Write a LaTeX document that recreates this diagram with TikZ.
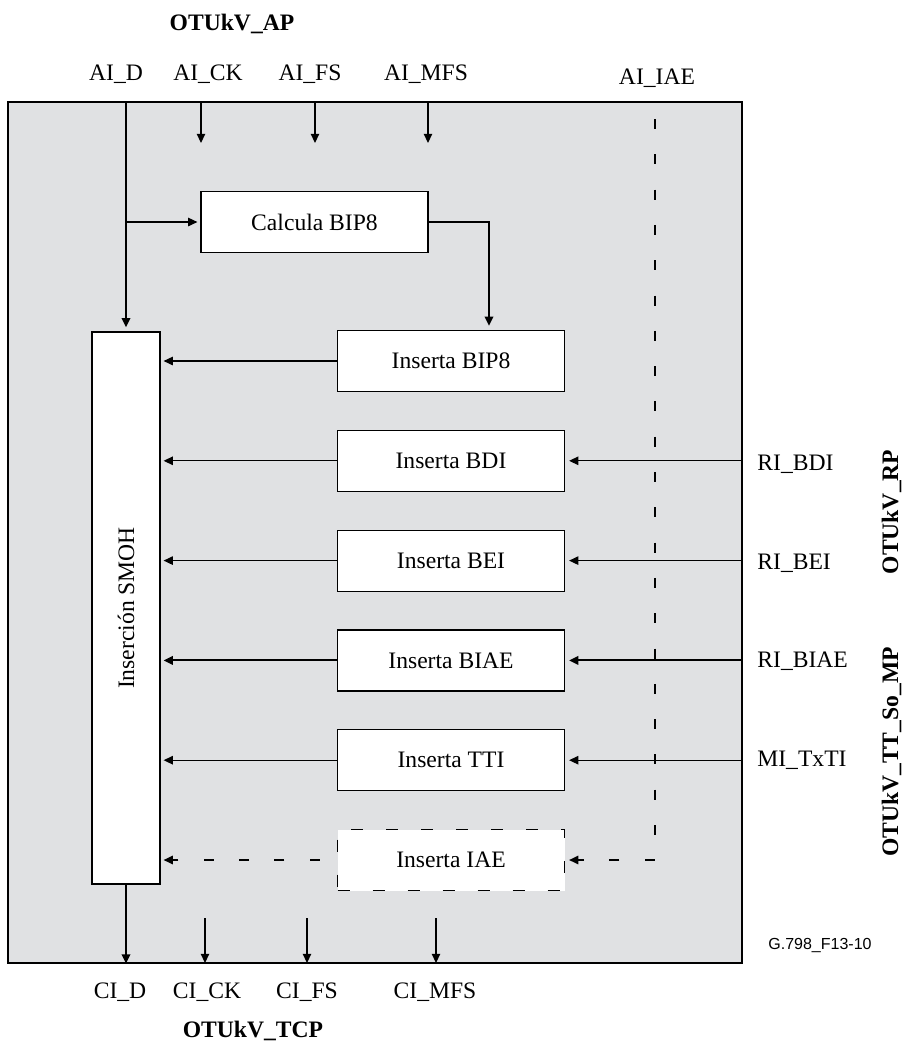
\documentclass[tikz,border=0pt]{standalone}
\usepackage{fontspec}
\setmainfont{Liberation Serif}
\newfontfamily\figfont{Liberation Sans}
\usetikzlibrary{arrows.meta, positioning}
\definecolor{FrameGray}{RGB}{224,225,227}

\begin{document}
\begin{tikzpicture}[
    x=0.5pt, y=-0.5pt,
    node distance=18.8pt,
    font=\fontsize{11.8}{14}\selectfont,
    frame/.style={rectangle, draw, fill=FrameGray, line width=0.65pt, minimum width=367pt, minimum height=430.5pt, inner sep=0pt},
    block/.style={rectangle, draw, fill=white, line width=0.6pt, minimum width=113.5pt, minimum height=30.5pt, inner sep=0pt, align=center},
    dblock/.style={block, dash pattern=on 6pt off 11.5pt},
    arrow/.style={-{Triangle[length=4.6pt, width=4.2pt]}, line width=0.6pt},
    darrow/.style={-{Triangle[length=4.6pt, width=4.2pt]}, line width=0.75pt, dash pattern=on 5pt off 12.65pt},
    mainarrow/.style={arrow, line width=1pt},
    sig/.style={anchor=base, inner sep=0pt},
    sigr/.style={anchor=base west, inner sep=0pt},
    title/.style={anchor=base, inner sep=0pt, font=\fontsize{11.8}{14}\selectfont\bfseries}
]
\useasboundingbox (0,0) rectangle (906,1041);

\node[frame] (frame) at (375,532.5) {};

\node[block] (calc) at (314.5,222) {Calcula BIP8};
\node[block] (ibip) at (451,361) {Inserta BIP8};
\node[block, below=of ibip] (ibdi) {Inserta BDI};
\node[block, below=of ibdi] (ibei) {Inserta BEI};
\node[block, below=of ibei] (ibiae) {Inserta BIAE};
\node[block, below=of ibiae] (itti) {Inserta TTI};
\node[dblock, below=of itti] (iiae) {Inserta IAE};
\node[block, minimum width=34pt, minimum height=276pt, label={[rotate=90]center:Inserción SMOH}] (smoh) at (126,608) {};

\node[title] (ap) at (232,30) {OTUkV\_AP};
\node[sig] (aid) at (116,80) {AI\_D};
\node[sig] (aick) at (208,80) {AI\_CK};
\node[sig] (aifs) at (310,80) {AI\_FS};
\node[sig] (aimfs) at (426,80) {AI\_MFS};
\node[sig] (aiiae) at (657,84) {AI\_IAE};

\node[sig] (cid) at (120,998) {CI\_D};
\node[sig] (cick) at (207,998) {CI\_CK};
\node[sig] (cifs) at (307,998) {CI\_FS};
\node[sig] (cimfs) at (435,998) {CI\_MFS};
\node[title] (tcp) at (253,1037) {OTUkV\_TCP};

\node[sigr] (ribdi) at (757,470) {RI\_BDI};
\node[sigr] (ribei) at (757,569) {RI\_BEI};
\node[sigr] (ribiae) at (757,667) {RI\_BIAE};
\node[sigr] (mitxti) at (757,766) {MI\_TxTI};
\node[title, rotate=90] (rp) at (898,512) {OTUkV\_RP};
\node[title, rotate=90] (mp) at (898,752) {OTUkV\_TT\_So\_MP};
\node[sigr, font=\figfont\fontsize{8}{10}\selectfont] (fig) at (768,949) {G.798\_F13-10};

\coordinate (ckin) at (201,102);
\coordinate (ckout) at (201,143);
\coordinate (fsin) at (315,102);
\coordinate (fsout) at (315,143);
\coordinate (mfsin) at (428,102);
\coordinate (mfsout) at (428,143);
\coordinate (iaein) at (655,119);
\coordinate (cckin) at (205,918);
\coordinate (cckout) at (205,963);
\coordinate (cfsin) at (307,918);
\coordinate (cfsout) at (307,963);
\coordinate (cmfsin) at (436,918);
\coordinate (cmfsout) at (436,963);

\draw[mainarrow, shorten >=2pt] (smoh.north |- frame.north) -- (smoh.north);
\draw[arrow, shorten >=1.5pt] (smoh.north |- calc.west) -- (calc.west);
\draw[mainarrow, shorten >=2pt] (calc.east) -| ([xshift=19pt]ibip.north);
\draw[arrow] (ckin) -- (ckout);
\draw[arrow] (fsin) -- (fsout);
\draw[arrow] (mfsin) -- (mfsout);

\draw[arrow, shorten >=1.5pt] (ibip.west) -- (ibip.west -| smoh.east);
\draw[arrow, shorten >=1.5pt] (ibdi.west) -- (ibdi.west -| smoh.east);
\draw[arrow, shorten >=1.5pt] (ibei.west) -- (ibei.west -| smoh.east);
\draw[mainarrow, shorten >=1.5pt] (ibiae.west) -- (ibiae.west -| smoh.east);
\draw[arrow, shorten >=1.5pt] (itti.west) -- (itti.west -| smoh.east);
\draw[darrow, dash phase=9pt, shorten >=1.5pt] (iiae.west) -- (iiae.west -| smoh.east);

\draw[arrow, shorten >=2pt] (ibdi.east -| frame.east) -- (ibdi.east);
\draw[arrow, shorten >=2pt] (ibei.east -| frame.east) -- (ibei.east);
\draw[mainarrow, shorten >=2pt] (ibiae.east -| frame.east) -- (ibiae.east);
\draw[arrow, shorten >=2pt] (itti.east -| frame.east) -- (itti.east);
\draw[darrow, shorten >=2pt] (iaein) |- (iiae.east);

\draw[mainarrow] (smoh.south) -- (smoh.south |- frame.south);
\draw[arrow] (cckin) -- (cckout);
\draw[arrow] (cfsin) -- (cfsout);
\draw[arrow] (cmfsin) -- (cmfsout);
\end{tikzpicture}
\end{document}
